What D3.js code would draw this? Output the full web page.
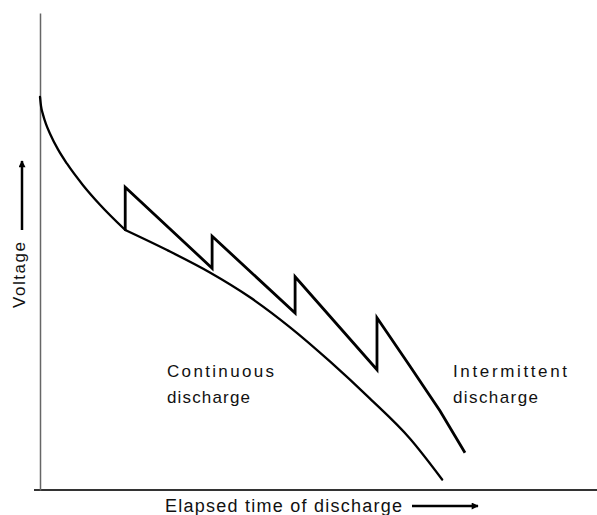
<!DOCTYPE html>
<html>
<head>
<meta charset="utf-8">
<script src="https://cdn.jsdelivr.net/npm/d3@7"></script>
<style>
  body { margin: 0; background: #fff; }
  text { font-family: "Liberation Sans", Arial, sans-serif; fill: #111; }
</style>
</head>
<body>
<div id="chart-container"></div>
<script>
// values (time and voltage in arbitrary units, 0..10)
// continuous discharge, split where the first rest period starts
const continuousTimeA    = [0, 0.018, 0.054, 0.108, 0.18, 0.323, 0.485, 0.772, 1.077, 1.53];
const continuousVoltageA = [8.24, 8.05, 7.87, 7.67, 7.47, 7.14, 6.84, 6.39, 5.98, 5.45];
const continuousTimeB    = [1.53, 2.28, 3.05, 3.77, 4.49, 5.21, 5.92, 6.64, 7.22];
const continuousVoltageB = [5.45, 5.03, 4.56, 4.04, 3.41, 2.69, 1.92, 1.08, 0.22];

const intermittentTime    = [1.53, 1.53, 3.09, 3.09, 4.58, 4.58, 6.05, 6.05, 6.64, 7.18, 7.63];
const intermittentVoltage = [5.45, 6.35, 4.65, 5.32, 3.71, 4.47, 2.52, 3.61, 2.60, 1.66, 0.78];

const seriesLabels = [
    { lines: ["Continuous", "discharge"], widths: [107, 83] },
    { lines: ["Intermittent", "discharge"], widths: [114, 85] }
];
const xTitle = "Elapsed time of discharge";
const yTitle = "Voltage";

const width = 597, height = 515;
const margin = { top: 13, right: 0, bottom: 25, left: 40 };

const svg = d3.select("#chart-container")
    .append("svg")
    .attr("width", width)
    .attr("height", height);

const xScale = d3.scaleLinear().domain([0, 10]).range([margin.left, width - margin.right]);
const yScale = d3.scaleLinear().domain([0, 10]).range([height - margin.bottom, margin.top]);

// axes without ticks
svg.append("g")
    .attr("transform", `translate(0,${yScale(0)})`)
    .call(d3.axisBottom(xScale).tickValues([]).tickSizeOuter(0))
    .select(".domain")
    .attr("stroke", "#333")
    .attr("stroke-width", 2)
    .attr("d", `M${xScale(0) - 6},0H${xScale(10)}`);

svg.append("g")
    .attr("transform", `translate(${xScale(0)},0)`)
    .call(d3.axisLeft(yScale).tickValues([]).tickSizeOuter(0))
    .select(".domain")
    .attr("stroke", "#666")
    .attr("stroke-width", 1.5);

const line = d3.line()
    .x(d => xScale(d[0]))
    .y(d => yScale(d[1]));

const zip = (ts, vs) => ts.map((t, i) => [t, vs[i]]);

[zip(continuousTimeA, continuousVoltageA), zip(continuousTimeB, continuousVoltageB)].forEach(part => {
    svg.append("path")
        .datum(part)
        .attr("fill", "none")
        .attr("stroke", "#000")
        .attr("stroke-width", 2.3)
        .attr("stroke-linecap", "round")
        .attr("d", line.curve(d3.curveMonotoneX));
});

svg.append("path")
    .datum(zip(intermittentTime, intermittentVoltage))
    .attr("fill", "none")
    .attr("stroke", "#000")
    .attr("stroke-width", 2.8)
    .attr("stroke-linejoin", "miter")
    .attr("d", line.curve(d3.curveLinear));

// series labels
const labelX = [167, 453];
seriesLabels.forEach((s, k) => {
    const t = svg.append("text")
        .attr("y", 377)
        .style("font-size", "17px");
    s.lines.forEach((l, i) => {
        t.append("tspan")
            .attr("x", labelX[k])
            .attr("dy", i == 0 ? 0 : 26)
            .attr("textLength", s.widths[i])
            .attr("lengthAdjust", "spacing")
            .text(l);
    });
});

// arrow heads
svg.append("defs").append("marker")
    .attr("id", "head")
    .attr("viewBox", "0 0 10 10")
    .attr("refX", 9).attr("refY", 5)
    .attr("markerWidth", 10).attr("markerHeight", 7)
    .attr("markerUnits", "userSpaceOnUse")
    .attr("orient", "auto")
    .append("path")
    .attr("d", "M0,0L10,5L0,10Z")
    .attr("fill", "#000");

// x title + arrow
svg.append("text")
    .attr("x", 165)
    .attr("y", 512)
    .attr("textLength", 237)
    .attr("lengthAdjust", "spacing")
    .style("font-size", "18px")
    .text(xTitle);

svg.append("line")
    .attr("x1", 412).attr("y1", 506)
    .attr("x2", 478).attr("y2", 506)
    .attr("stroke", "#000")
    .attr("stroke-width", 2.5)
    .attr("marker-end", "url(#head)");

// y title + arrow
svg.append("text")
    .attr("transform", "translate(25,308) rotate(-90)")
    .attr("textLength", 66)
    .attr("lengthAdjust", "spacing")
    .style("font-size", "17px")
    .text(yTitle);

svg.append("line")
    .attr("x1", 22).attr("y1", 230)
    .attr("x2", 22).attr("y2", 161)
    .attr("stroke", "#000")
    .attr("stroke-width", 2.5)
    .attr("marker-end", "url(#head)");
</script>
</body>
</html>
